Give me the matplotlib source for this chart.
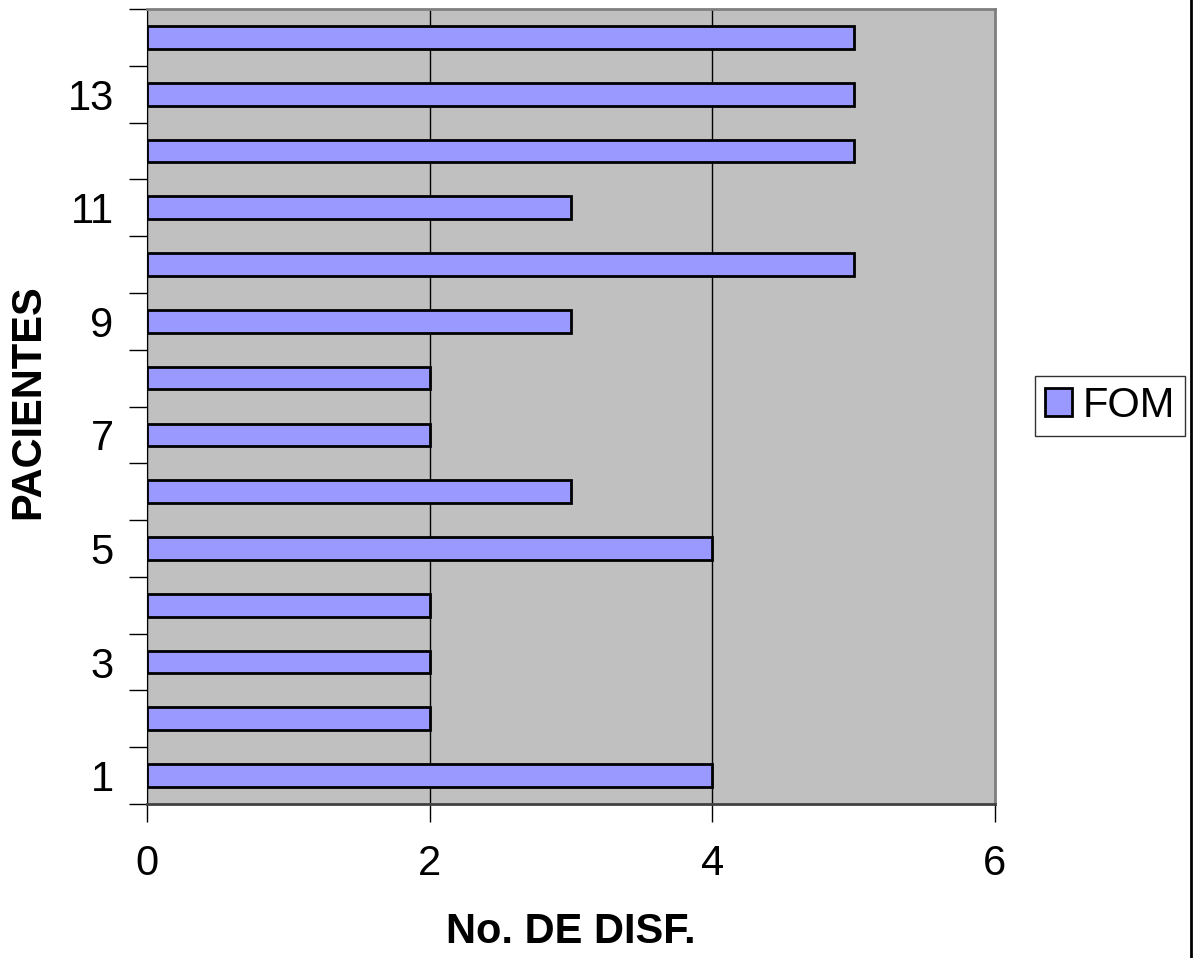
import matplotlib.pyplot as plt
import numpy as np
from matplotlib.patches import Patch

plt.rcParams['font.family'] = ['Liberation Sans', 'DejaVu Sans']

pacientes = list(range(1, 15))
fom = [4, 2, 2, 2, 4, 3, 2, 2, 3, 5, 3, 5, 5, 5]
xticks = [0, 2, 4, 6]

fig = plt.figure(figsize=(11.93, 9.58), dpi=100)
ax = fig.add_axes([147 / 1193, 1 - 804 / 958, (995 - 147) / 1193, (804 - 9) / 958])

ax.set_facecolor('#C0C0C0')
ax.barh(pacientes, fom, height=0.4, color='#9999FF', edgecolor='black', linewidth=2, zorder=3)

ax.set_xlim(0, 6)
ax.set_ylim(0.5, 14.5)
ax.set_xticks(xticks)
ax.xaxis.grid(True, color='black', linewidth=1, zorder=1)

ax.set_yticks(pacientes[::2])
ax.set_yticks(np.arange(0.5, 15, 1), minor=True)
ax.tick_params(axis='y', which='major', length=0, pad=24, labelsize=30)
ax.tick_params(axis='y', which='minor', length=13, width=1, direction='out')
ax.tick_params(axis='x', length=13, width=1, pad=16, labelsize=30)

for s in ['top', 'right']:
    ax.spines[s].set_color('#808080')
    ax.spines[s].set_linewidth(2)
ax.spines['left'].set_color('black')
ax.spines['bottom'].set_color('#404040')
ax.spines['bottom'].set_linewidth(2)

ax.set_xlabel('No. DE DISF.', fontsize=30, fontweight='bold', va='center')
ax.set_ylabel('PACIENTES', fontsize=30, fontweight='bold', va='center')
ax.xaxis.set_label_coords((571 - 147) / 848, (804 - 932) / 795)
ax.yaxis.set_label_coords((28 - 147) / 848, (804 - 402) / 795)

handle = Patch(facecolor='#9999FF', edgecolor='black', linewidth=2)
fig.legend([handle], ['FOM'], loc='center', bbox_to_anchor=(1110 / 1193, 1 - 406 / 958),
           fontsize=30, frameon=True, fancybox=False, edgecolor='black',
           handlelength=0.65, handleheight=0.65, handletextpad=0.25, borderpad=0.25,
           borderaxespad=0)

fig.add_artist(plt.Line2D([1191 / 1193, 1191 / 1193], [0, 1], color='black', linewidth=2))

fig.savefig('out.png', dpi=100)
